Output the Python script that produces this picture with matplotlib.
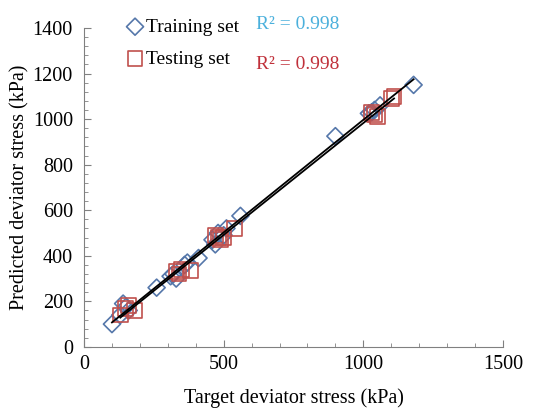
import matplotlib
matplotlib.use("Agg")
import matplotlib.pyplot as plt
import numpy as np

plt.rcParams['font.family'] = ['Liberation Serif', 'DejaVu Serif']

# training set (target, predicted) in kPa
train_x = [100, 130, 140, 150, 160, 260, 310, 320, 330, 360, 370, 410,
           460, 470, 480, 500, 510, 560, 900, 1020, 1030, 1040, 1060, 1180]
train_y = [100, 140, 190, 175, 160, 260, 310, 320, 300, 360, 370, 390,
           470, 450, 500, 490, 520, 575, 925, 1025, 1030, 1040, 1060, 1150]

# testing set
test_x = [130, 150, 160, 180, 330, 340, 350, 380, 470, 480, 490, 500, 540,
          1030, 1040, 1050, 1100, 1110]
test_y = [140, 170, 180, 160, 330, 320, 340, 335, 490, 480, 470, 480, 520,
          1030, 1020, 1010, 1090, 1100]

r2_train = "R\u00b2 = 0.998"
r2_test = "R\u00b2 = 0.998"

BLUE = '#5577aa'
RED = '#c0504d'

fig = plt.figure(figsize=(5.42, 4.11), dpi=100)
ax = fig.add_axes([0.155, 0.156, 0.773, 0.776])

ax.scatter(train_x, train_y, marker='D', s=75, facecolors='none',
           edgecolors=BLUE, linewidths=1.2, label='Training set', zorder=3)
ax.scatter(test_x, test_y, marker='s', s=115, facecolors='none',
           edgecolors=RED, linewidths=1.2, label='Testing set', zorder=3)

# linear trend lines
for xs, ys in ((train_x, train_y), (test_x, test_y)):
    k, b = np.polyfit(xs, ys, 1)
    xx = np.array([min(xs), max(xs)])
    ax.plot(xx, k * xx + b, color='black', linewidth=1.3, zorder=4)

ax.set_xlim(0, 1500)
ax.set_ylim(0, 1400)
ax.set_xticks([0, 500, 1000, 1500])
ax.set_yticks(range(0, 1401, 200))
ax.set_xticks(range(0, 1501, 100), minor=True)
ax.set_yticks(range(0, 1401, 40), minor=True)
ax.tick_params(which='both', direction='in', labelsize=14.5, color='#808080')
ax.tick_params(which='major', length=5)
ax.tick_params(which='minor', length=3)
ax.tick_params(axis='y', pad=8)
ax.tick_params(axis='x', pad=6)
ax.spines['top'].set_visible(False)
ax.spines['right'].set_visible(False)
ax.spines['left'].set_color('#808080')
ax.spines['bottom'].set_color('#808080')

ax.set_xlabel('Target deviator stress (kPa)', fontsize=14.5, labelpad=10)
ax.set_ylabel('Predicted deviator stress (kPa)', fontsize=14.5, labelpad=2)

ax.legend(loc='upper left', bbox_to_anchor=(0.08, 1.055), frameon=False,
          fontsize=14, handletextpad=0.05, labelspacing=0.75, borderaxespad=0,
          handlelength=1.0)

fig.text(0.472, 0.930, r2_train, color='#4bb0dc', fontsize=14)
fig.text(0.472, 0.833, r2_test, color='#c0303a', fontsize=14)

fig.savefig('out.png', dpi=100)
